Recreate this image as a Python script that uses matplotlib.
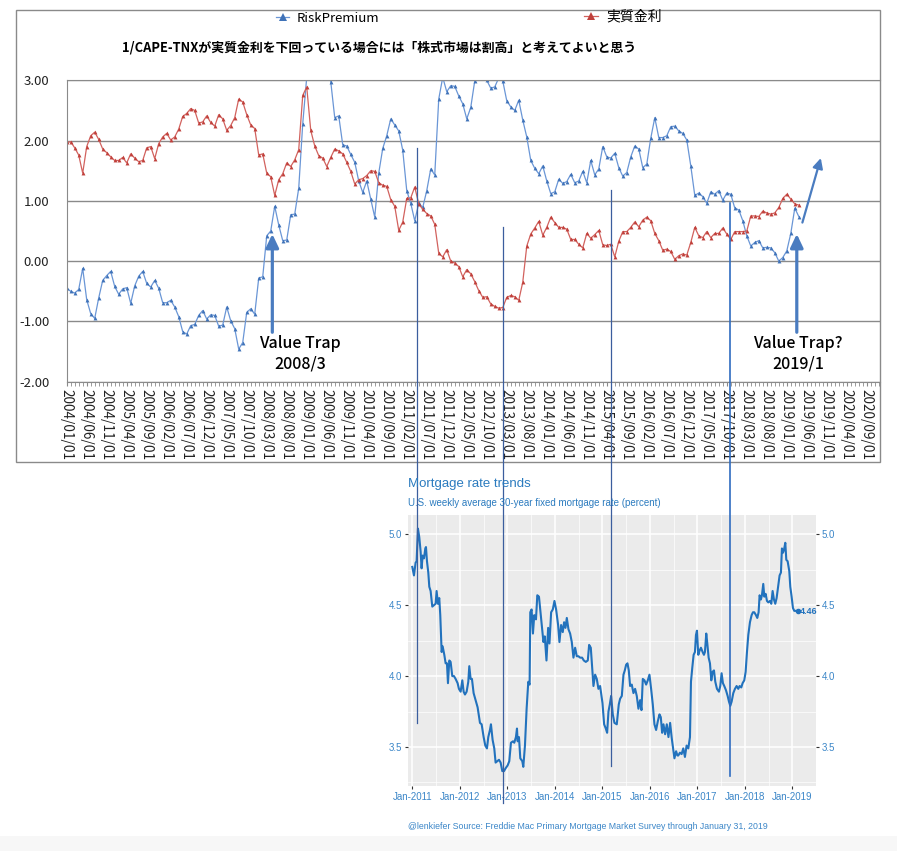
import matplotlib.pyplot as plt
import pandas as pd
from matplotlib.lines import Line2D
from matplotlib.patches import Rectangle

plt.rcParams['font.family'] = ['Noto Sans CJK JP', 'DejaVu Sans']

W, H = 897, 851


def fx(p):
    return p / W


def fy(p):
    return 1 - p / H


# ---- top chart data: monthly from 2004/01 (values above 3.00 are cut off by the axis)
risk_premium = [
    -0.45, -0.50, -0.53, -0.47, -0.12, -0.64, -0.87, -0.95, -0.61, -0.32,
    -0.24, -0.17, -0.42, -0.55, -0.46, -0.44, -0.70, -0.41, -0.25, -0.17,
    -0.37, -0.43, -0.32, -0.45, -0.69, -0.69, -0.65, -0.76, -0.92, -1.17,
    -1.21, -1.07, -1.05, -0.90, -0.82, -0.96, -0.89, -0.90, -1.08, -1.06,
    -0.76, -0.99, -1.12, -1.46, -1.35, -0.85, -0.79, -0.88, -0.28, -0.26,
    0.42, 0.50, 0.91, 0.60, 0.34, 0.35, 0.77, 0.78,
    1.21, 2.28, 3.05, 3.6, 4.1, 4.3, 3.9, 3.2, 2.98, 2.38,
    2.41, 1.93, 1.91, 1.77, 1.64, 1.33, 1.14, 1.33, 1.03, 0.73,
    1.46, 1.87, 2.08, 2.36, 2.26, 2.16, 1.84, 1.17, 0.96, 0.67,
    0.96, 0.89, 1.17, 1.53, 1.43,
    2.69, 3.05, 2.81, 2.91, 2.90, 2.74, 2.61, 2.36, 2.55, 2.99,
    3.15, 3.1, 3.0, 2.87, 2.89, 3.04, 2.99,
    2.66, 2.56, 2.50, 2.67, 2.34, 2.06, 1.67, 1.54, 1.45, 1.58,
    1.33, 1.12, 1.15, 1.36, 1.29, 1.32, 1.44, 1.30, 1.33, 1.49,
    1.30, 1.67, 1.43, 1.53, 1.90, 1.73, 1.71, 1.79, 1.55, 1.41,
    1.47, 1.73, 1.91, 1.86, 1.55, 1.61, 2.04, 2.38, 2.05, 2.05,
    2.08, 2.23, 2.24, 2.16, 2.12, 2.01, 1.58, 1.09, 1.13, 1.07,
    0.96, 1.15, 1.11, 1.17, 1.01, 1.13, 1.11, 0.88, 0.85,
    0.67, 0.42, 0.25, 0.31, 0.34, 0.22, 0.23, 0.22, 0.14, 0.0,
    0.06, 0.17, 0.46, 0.88, 0.74,
]
real_rate = [
    1.97, 1.98, 1.88, 1.76, 1.46, 1.90, 2.08, 2.14, 2.02, 1.86,
    1.80, 1.73, 1.67, 1.67, 1.72, 1.63, 1.78, 1.71, 1.65, 1.67,
    1.88, 1.90, 1.70, 1.95, 2.06, 2.12, 2.01, 2.06, 2.19, 2.40,
    2.45, 2.53, 2.50, 2.29, 2.31, 2.41, 2.30, 2.24, 2.43, 2.36,
    2.17, 2.25, 2.38, 2.69, 2.64, 2.43, 2.26, 2.20, 1.76, 1.78,
    1.46, 1.40, 1.09, 1.35, 1.45, 1.63, 1.57, 1.68, 1.85, 2.75,
    2.89, 2.17, 1.91, 1.75, 1.71, 1.57, 1.72, 1.86, 1.83, 1.78,
    1.64, 1.49, 1.28, 1.35, 1.37, 1.42, 1.50, 1.49, 1.30, 1.26,
    1.24, 1.02, 0.91, 0.51, 0.65, 1.04, 1.05, 1.23, 0.95, 0.86,
    0.79, 0.75, 0.61,
    0.13, 0.07, 0.19, 0.0, -0.03, -0.09, -0.26, -0.14, -0.21, -0.34,
    -0.49, -0.60, -0.59, -0.71, -0.75, -0.78, -0.77, -0.60, -0.57, -0.59,
    -0.65, -0.35, 0.25, 0.45, 0.55, 0.66, 0.43, 0.56, 0.73, 0.64,
    0.56, 0.56, 0.53, 0.36, 0.36, 0.28, 0.22, 0.46, 0.38, 0.44,
    0.51, 0.27, 0.26, 0.28, 0.07, 0.33, 0.49, 0.49, 0.56, 0.65,
    0.57, 0.68, 0.73, 0.67, 0.46, 0.34, 0.18, 0.20, 0.16, 0.03,
    0.09, 0.12, 0.10, 0.31, 0.56, 0.42, 0.39, 0.49, 0.39, 0.46,
    0.46, 0.55, 0.45, 0.36, 0.49, 0.49, 0.49, 0.50, 0.75,
    0.75, 0.74, 0.83, 0.80, 0.78, 0.80, 0.89, 1.04, 1.11, 1.03, 0.95, 0.93,
]
axis_months = pd.date_range('2004-01-01', '2020-12-01', freq='MS')
month_labels = [d.strftime('%Y/%m/%d') for d in axis_months]
y_ticks = [-2, -1, 0, 1, 2, 3]
top_title = '1/CAPE-TNXが実質金利を下回っている場合には「株式市場は割高」と考えてよいと思う'

# ---- bottom chart data: 30y mortgage rate (decimal year, percent)
mort_year = [
    2011.000, 2011.035, 2011.070, 2011.091, 2011.119, 2011.147, 2011.175, 2011.196, 2011.218, 2011.246,
    2011.274, 2011.288, 2011.309, 2011.337, 2011.358, 2011.386, 2011.421, 2011.456, 2011.491, 2011.512,
    2011.540, 2011.568, 2011.589, 2011.618, 2011.639, 2011.674, 2011.702, 2011.730, 2011.751, 2011.779,
    2011.807, 2011.842, 2011.877, 2011.912, 2011.954, 2011.982, 2012.018, 2012.053, 2012.081, 2012.109,
    2012.144, 2012.179, 2012.200, 2012.228, 2012.256, 2012.291, 2012.333, 2012.375, 2012.425, 2012.460,
    2012.502, 2012.537, 2012.572, 2012.600, 2012.635, 2012.656, 2012.691, 2012.726, 2012.754, 2012.789,
    2012.825, 2012.860, 2012.895, 2012.930, 2012.965, 2013.007, 2013.042, 2013.077, 2013.119, 2013.147,
    2013.182, 2013.204, 2013.218, 2013.246, 2013.274, 2013.316, 2013.337, 2013.372, 2013.407, 2013.442,
    2013.470, 2013.484, 2013.512, 2013.540, 2013.568, 2013.604, 2013.632, 2013.667,
    2013.726, 2013.761, 2013.789, 2013.825, 2013.860, 2013.888, 2013.923, 2013.958, 2013.993, 2014.028,
    2014.070, 2014.098, 2014.133, 2014.168, 2014.196, 2014.225, 2014.253, 2014.288, 2014.323, 2014.358,
    2014.393, 2014.428, 2014.463, 2014.498, 2014.533, 2014.575, 2014.611, 2014.653, 2014.695, 2014.723,
    2014.758, 2014.786, 2014.814, 2014.849, 2014.884, 2014.919, 2014.954, 2014.982, 2015.004, 2015.039,
    2015.074, 2015.102, 2015.130, 2015.158, 2015.186, 2015.221, 2015.256, 2015.305, 2015.347, 2015.375,
    2015.411, 2015.446, 2015.474, 2015.502, 2015.530, 2015.558, 2015.586, 2015.621, 2015.656, 2015.691,
    2015.726, 2015.761, 2015.796, 2015.825, 2015.853, 2015.888, 2015.923, 2015.958, 2015.993, 2016.028,
    2016.063, 2016.098, 2016.133, 2016.168, 2016.204, 2016.232, 2016.260, 2016.288, 2016.323, 2016.358,
    2016.393, 2016.428, 2016.463, 2016.491, 2016.519, 2016.554, 2016.582,
    2016.600, 2016.635, 2016.670, 2016.705, 2016.740, 2016.775, 2016.811, 2016.846, 2016.867, 2016.895,
    2016.923, 2016.951, 2016.972, 2016.993, 2017.021, 2017.049, 2017.077, 2017.112, 2017.140, 2017.161,
    2017.189, 2017.211, 2017.239, 2017.267, 2017.295, 2017.323, 2017.351, 2017.379, 2017.414, 2017.456,
    2017.484, 2017.512, 2017.540, 2017.568, 2017.604, 2017.639, 2017.667, 2017.695, 2017.723, 2017.758,
    2017.793, 2017.828, 2017.863, 2017.891, 2017.926, 2017.954, 2017.989, 2018.018, 2018.046, 2018.074,
    2018.109, 2018.144, 2018.172, 2018.200, 2018.235, 2018.263, 2018.291, 2018.312, 2018.340, 2018.361,
    2018.389, 2018.411, 2018.439, 2018.467, 2018.495, 2018.530, 2018.558, 2018.586, 2018.614, 2018.642,
    2018.670, 2018.705, 2018.733, 2018.761, 2018.782, 2018.804, 2018.825, 2018.853, 2018.874, 2018.902,
    2018.937, 2018.958, 2018.986, 2019.014, 2019.042, 2019.084, 2019.112,
]
mort_rate = [
    4.77, 4.71, 4.80, 4.81, 5.04, 4.98, 4.88, 4.76, 4.85, 4.83,
    4.90, 4.91, 4.81, 4.73, 4.63, 4.60, 4.49, 4.50, 4.51, 4.60,
    4.51, 4.55, 4.43, 4.17, 4.21, 4.15, 4.09, 4.09, 3.95, 4.11,
    4.10, 4.00, 4.00, 3.98, 3.95, 3.91, 3.89, 3.97, 3.89, 3.87,
    3.89, 3.96, 4.07, 3.98, 3.98, 3.88, 3.83, 3.78, 3.67, 3.66,
    3.57, 3.51, 3.49, 3.57, 3.62, 3.66, 3.55, 3.49, 3.39, 3.40,
    3.41, 3.39, 3.33, 3.33, 3.35, 3.37, 3.40, 3.53, 3.54, 3.53,
    3.57, 3.63, 3.54, 3.57, 3.42, 3.40, 3.36, 3.51, 3.77, 3.96,
    3.94, 4.45, 4.47, 4.30, 4.43, 4.40, 4.57, 4.56,
    4.36, 4.24, 4.28, 4.11, 4.34, 4.23, 4.45, 4.47, 4.53, 4.47,
    4.36, 4.24, 4.36, 4.31, 4.38, 4.34, 4.41, 4.33, 4.30, 4.24,
    4.13, 4.20, 4.14, 4.14, 4.13, 4.13, 4.11, 4.10, 4.11, 4.22,
    4.20, 4.06, 3.93, 4.01, 3.98, 3.91, 3.93, 3.86, 3.81, 3.66,
    3.63, 3.60, 3.75, 3.80, 3.86, 3.73, 3.67, 3.66, 3.80, 3.84,
    3.86, 4.01, 4.04, 4.08, 4.09, 4.04, 3.93, 3.94, 3.88, 3.91,
    3.86, 3.77, 3.83, 3.76, 3.98, 3.97, 3.94, 3.97, 4.01, 3.91,
    3.80, 3.66, 3.62, 3.68, 3.73, 3.71, 3.60, 3.66, 3.59, 3.66,
    3.57, 3.67, 3.56, 3.49, 3.42, 3.47, 3.44,
    3.44, 3.46, 3.45, 3.49, 3.43, 3.51, 3.49, 3.57, 3.96, 4.06,
    4.15, 4.17, 4.29, 4.32, 4.15, 4.18, 4.20, 4.17, 4.15, 4.17,
    4.30, 4.23, 4.13, 4.09, 3.97, 4.03, 4.04, 3.96, 3.91, 3.89,
    3.93, 4.02, 3.95, 3.93, 3.90, 3.86, 3.82, 3.79, 3.82, 3.88,
    3.91, 3.93, 3.91, 3.93, 3.92, 3.95, 3.97, 4.03, 4.17, 4.29,
    4.38, 4.43, 4.45, 4.45, 4.43, 4.41, 4.45, 4.57, 4.54, 4.57,
    4.65, 4.56, 4.58, 4.53, 4.52, 4.53, 4.51, 4.60, 4.54, 4.51,
    4.55, 4.64, 4.71, 4.73, 4.90, 4.87, 4.89, 4.94, 4.82, 4.81,
    4.74, 4.63, 4.56, 4.48, 4.46, 4.46, 4.46,
]
mort_ticks = [2011, 2012, 2013, 2014, 2015, 2016, 2017, 2018, 2019]
mort_yticks = [3.5, 4.0, 4.5, 5.0]

fig = plt.figure(figsize=(W / 100, H / 100), dpi=100)
fig.add_artist(Rectangle((0, 0), 1, fy(836), transform=fig.transFigure,
                         facecolor='#f7f7f7', lw=0, zorder=-1))

# ================= top chart =================
gray = '#8a8a8a'
ax = fig.add_axes([fx(66.7), fy(381.7), fx(880) - fx(66.7), fy(80.3) - fy(381.7)])
idx = range(len(risk_premium))
l_rp, = ax.plot(idx, risk_premium, color='#6a96d6', lw=0.9, marker='^', ms=2.8,
                mfc='#3f72b8', mec='#3f72b8', mew=0)
l_rr, = ax.plot(idx, real_rate, color='#d2625e', lw=0.9, marker='^', ms=2.8,
                mfc='#c0403b', mec='#c0403b', mew=0)
ax.set_xlim(0, len(axis_months) - 0.7)
ax.set_ylim(-2, 3)
ax.set_yticks(y_ticks, [f'{v:.2f}' for v in y_ticks], fontsize=9.5)
ax.set_xticks(range(0, len(axis_months), 5), month_labels[::5], rotation=270, fontsize=9.8)
ax.set_xticks(range(len(axis_months)), minor=True)
ax.tick_params(axis='y', length=0, pad=12.5, labelcolor='#222222')
ax.tick_params(axis='x', which='both', length=3, color=gray, pad=2, labelcolor='#222222')
ax.grid(axis='y', color=gray, lw=1.0)
ax.set_axisbelow(True)
for s in ['top', 'left', 'bottom']:
    ax.spines[s].set_color(gray)
ax.spines['right'].set_visible(False)

# legends at the top
fig.legend(handles=[l_rp], labels=['RiskPremium'], loc='center left',
           bbox_to_anchor=(fx(276), fy(18.5)), frameon=False, fontsize=9.5,
           handlelength=1.0, handletextpad=0.6, borderpad=0, borderaxespad=0, markerscale=2)
fig.legend(handles=[l_rr], labels=['実質金利'], loc='center left',
           bbox_to_anchor=(fx(584), fy(16.5)), frameon=False, fontsize=10,
           handlelength=1.0, handletextpad=0.6, borderpad=0, borderaxespad=0, markerscale=2)
fig.text(fx(378.7), fy(47.5), top_title, ha='center', va='center', fontsize=9.3, fontweight='bold')

arrow_c = '#4a7cc0'
for xa in [51.4, 182.5]:
    ax.annotate('', xy=(xa, 0.45), xytext=(xa, -1.18),
                arrowprops=dict(arrowstyle='-|>,head_length=8,head_width=3.8', mutation_scale=1,
                                lw=2.3, color=arrow_c, shrinkA=0, shrinkB=0))
ax.text(58.3, -1.54, 'Value Trap\n2008/3', ha='center', va='center', fontsize=11.5,
        fontweight='medium', linespacing=1.3)
ax.text(182.8, -1.54, 'Value Trap?\n2019/1', ha='center', va='center', fontsize=11.5,
        fontweight='medium', linespacing=1.3)
ax.annotate('', xy=(188.5, 1.71), xytext=(183.9, 0.64), annotation_clip=False,
            arrowprops=dict(arrowstyle='-|>,head_length=6,head_width=3', mutation_scale=1,
                            lw=1.6, color=arrow_c, shrinkA=0, shrinkB=0))

# outer frame of the top chart
fig.add_artist(Rectangle((fx(16), fy(462)), fx(880) - fx(16), fy(10) - fy(462),
                         transform=fig.transFigure, fill=False, edgecolor=gray, lw=1.0))

# ================= bottom chart =================
blue = '#2272bd'
lab_c = '#3b86c8'
ax2 = fig.add_axes([fx(408.3), fy(785.7), fx(815.7) - fx(408.3), fy(515) - fy(785.7)])
ax2.set_facecolor('#EBEBEB')
ax2.plot(mort_year, mort_rate, color=blue, lw=1.5, solid_joinstyle='round')
ax2.plot(mort_year[-1], mort_rate[-1], 'o', color=blue, ms=3)
ax2.annotate(f'{mort_rate[-1]:.2f}', (mort_year[-1], mort_rate[-1]), xytext=(1.5, -0.5),
             textcoords='offset points', va='center', fontsize=6.5, fontweight='bold',
             color=blue, family='Liberation Sans')
ax2.set_xlim(2010.916, 2019.493)
ax2.set_ylim(3.227, 5.136)
ax2.set_xticks(mort_ticks, [f'Jan-{y}' for y in mort_ticks])
ax2.set_xticks([y + 0.5 for y in mort_ticks[:-1]], minor=True)
ax2.set_yticks(mort_yticks, [f'{v:.1f}' for v in mort_yticks])
ax2.set_yticks([3.25, 3.75, 4.25, 4.75], minor=True)
ax2.grid(which='major', color='white', lw=1.1)
ax2.grid(which='minor', color='white', lw=0.5)
ax2.set_axisbelow(True)
for s in ax2.spines.values():
    s.set_visible(False)
ax2.tick_params(which='major', length=2.5, width=0.8, color='#333333', labelcolor=lab_c,
                labelsize=7, pad=2)
ax2.tick_params(axis='y', right=True, labelright=True)
ax2.tick_params(which='minor', length=0)
for t in ax2.get_xticklabels() + ax2.get_yticklabels():
    t.set_fontfamily('Liberation Sans')

fig.text(fx(408.3), fy(484), 'Mortgage rate trends', fontsize=9.5, color='#2b7bbf',
         va='center', family='Liberation Sans')
fig.text(fx(408.3), fy(503), 'U.S. weekly average 30-year fixed mortgage rate (percent)',
         fontsize=7.0, color='#2b7bbf', va='center', family='Liberation Sans')
fig.text(fx(408.3), fy(826.7),
         '@lenkiefer Source: Freddie Mac Primary Mortgage Market Survey through January 31, 2019',
         fontsize=6.3, color=lab_c, va='center', family='Liberation Sans')

# hand-drawn guide lines that link both charts
guides = [(417.3, 147.7, 723.3, '#3b5e9e', 0.9), (503.3, 226.7, 803.3, '#3b5e9e', 0.9),
          (611.3, 190.0, 765.7, '#3b5e9e', 0.9), (730.3, 203.0, 776.0, '#2f6cc0', 1.2)]
for xp, y0, y1, c, lw in guides:
    fig.add_artist(Line2D([fx(xp), fx(xp)], [fy(y0), fy(y1)], color=c, lw=lw,
                          transform=fig.transFigure))

fig.savefig('out.png', dpi=100)
